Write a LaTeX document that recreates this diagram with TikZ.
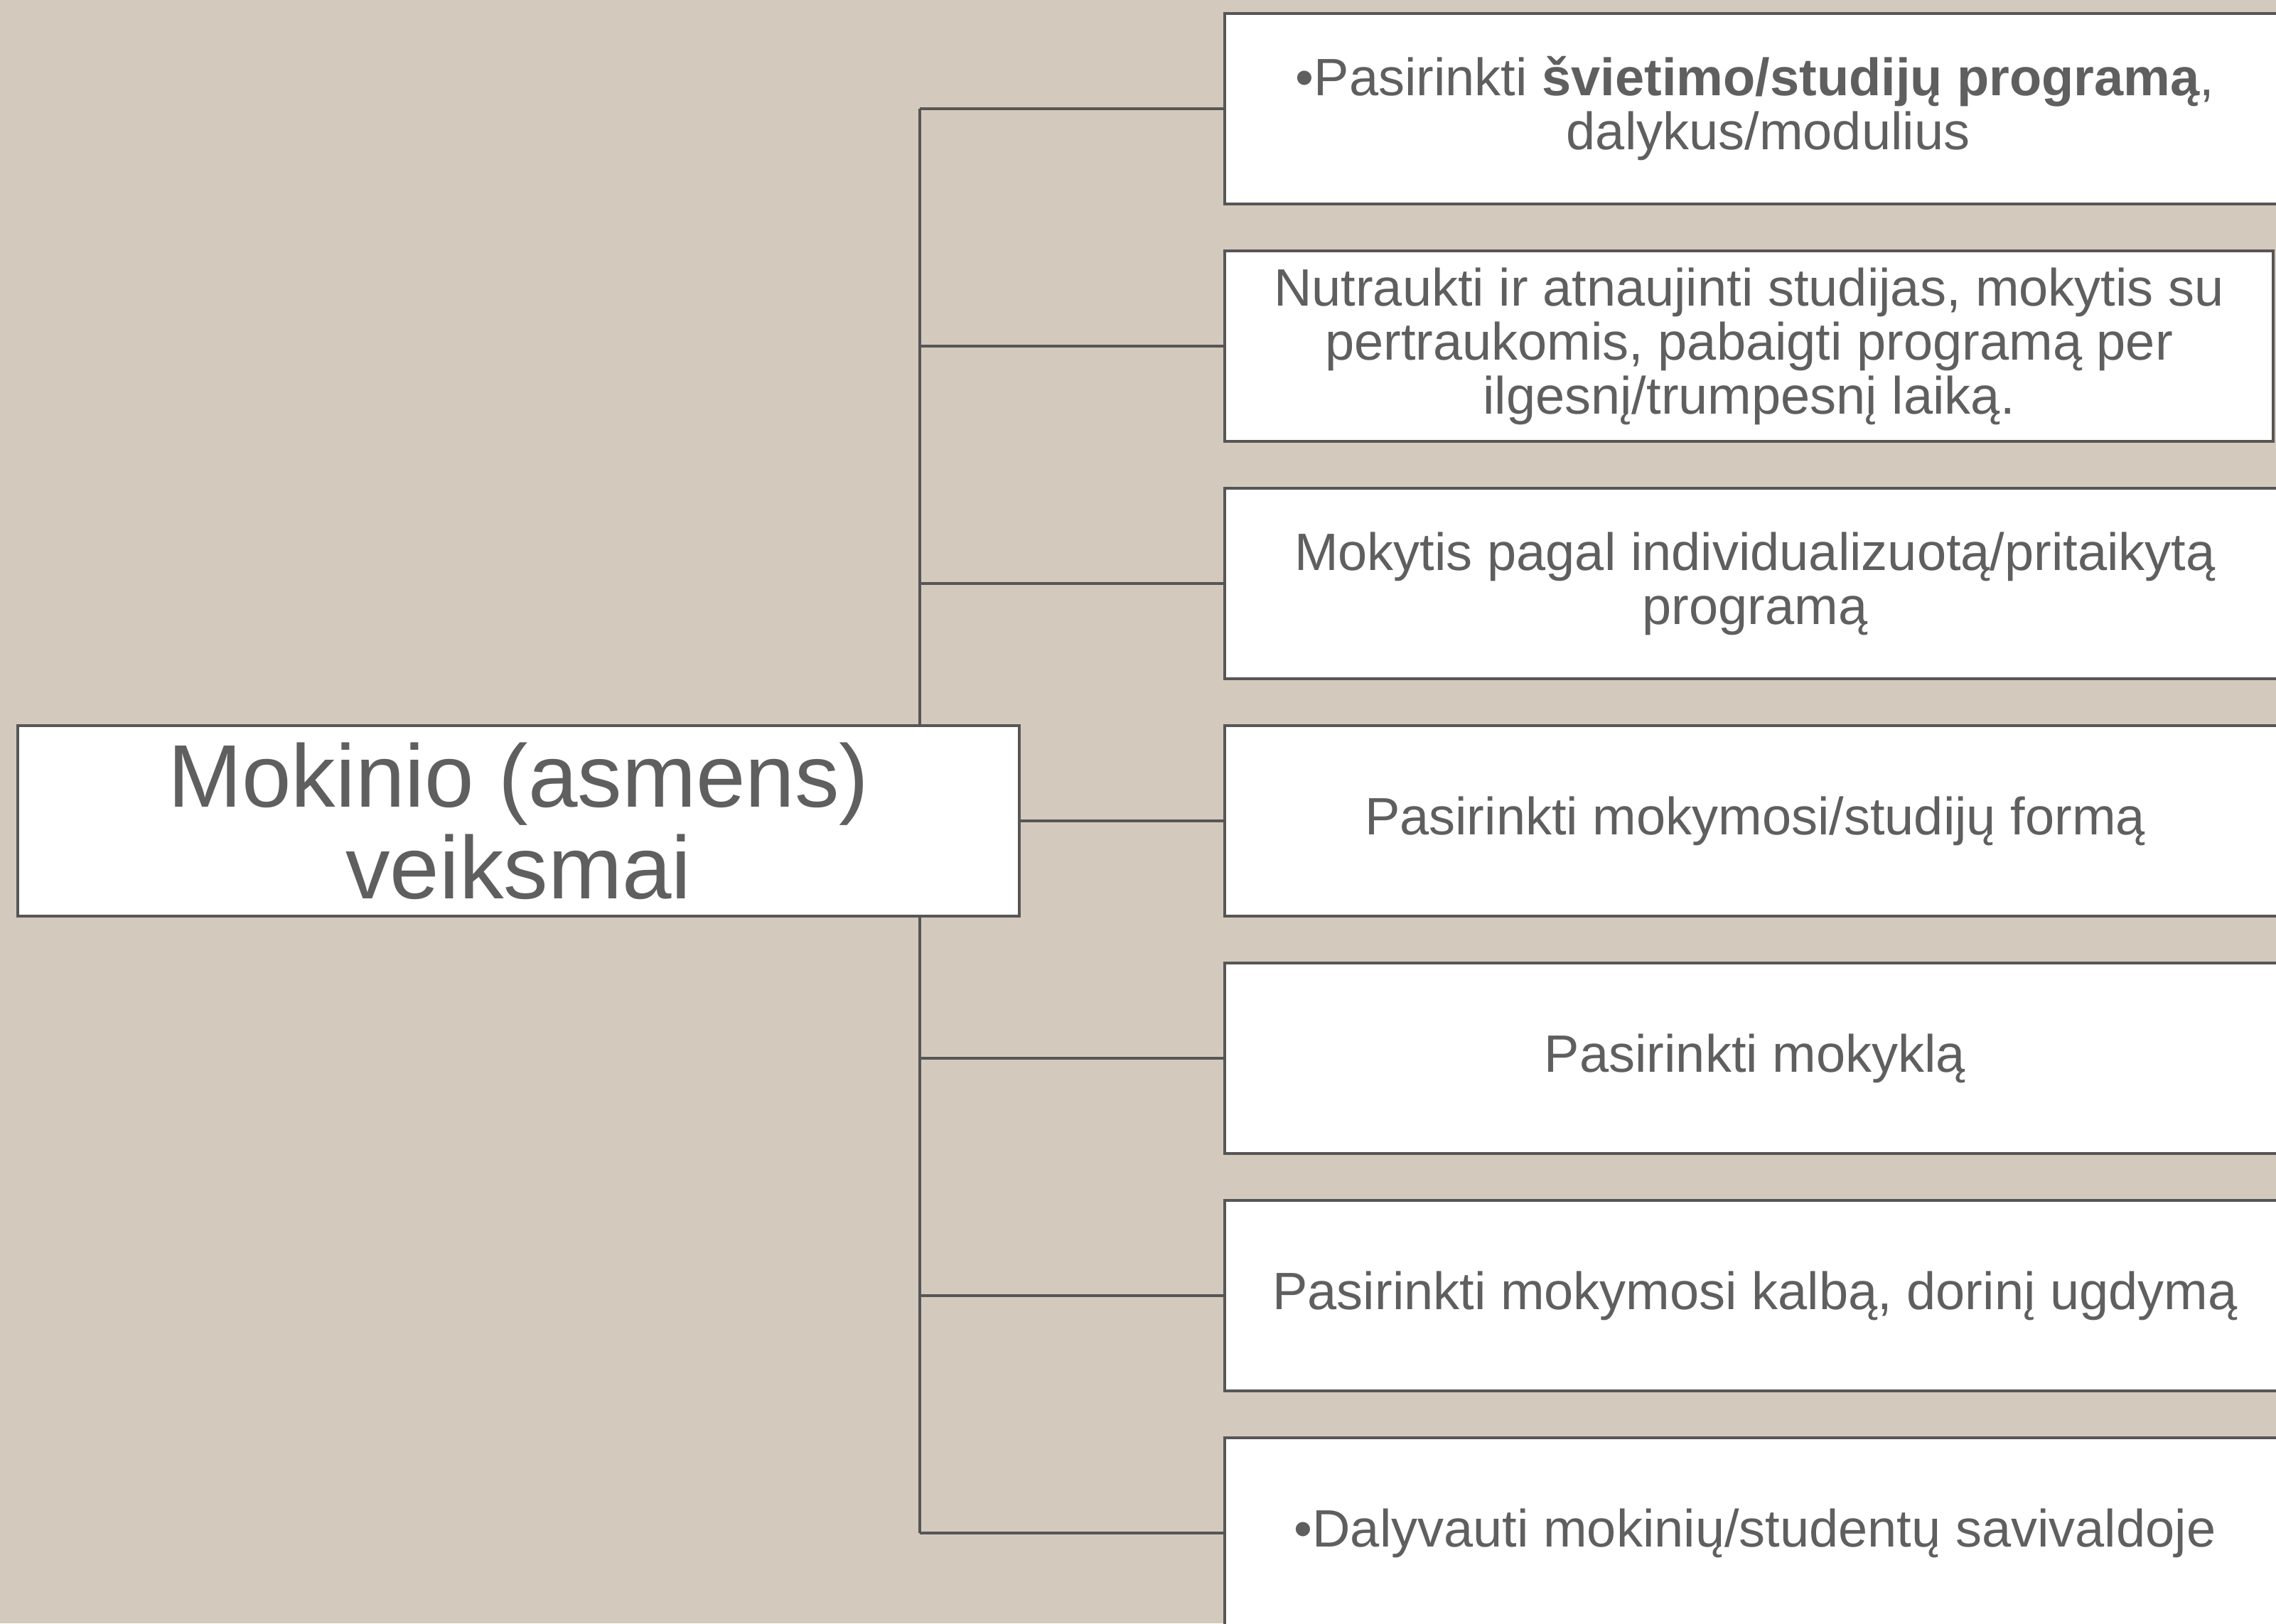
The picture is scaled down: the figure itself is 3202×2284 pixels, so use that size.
\documentclass[tikz,border=0pt]{standalone}
\usepackage{fontspec}
\setmainfont{Liberation Sans}
\definecolor{bgtan}{HTML}{D3C9BD}
\definecolor{edgegray}{HTML}{565656}
\definecolor{txtgray}{HTML}{5F5F5F}
\begin{document}
\begin{tikzpicture}[x=1pt,y=-1pt,
  actbox/.style={draw=edgegray, line width=4.5pt, fill=white, inner sep=0pt, outer sep=0pt,
    minimum width=1492pt, minimum height=268pt, anchor=north west,
    text=txtgray, align=center, font=\fontsize{74}{76}\selectfont},
  mainbox/.style={draw=edgegray, line width=4.5pt, fill=white, inner sep=0pt, outer sep=0pt,
    minimum width=1409pt, minimum height=268pt, anchor=north west,
    text=txtgray, align=center, font=\fontsize{125}{129}\selectfont},
  link/.style={draw=edgegray, line width=4.2pt}]
\useasboundingbox[fill=bgtan] (0,0) rectangle (3202,2284);
% right boxes
\node[actbox] (b1) at (1723,19) {•Pasirinkti \textbf{švietimo/studijų programą},\\dalykus/moduliu\rlap{s}};
\node[actbox, minimum width=1475pt] (b2) at (1723,353) {Nutraukti ir atnaujinti studijas, mokytis su\\pertraukomis, pabaigti programą per\\ilgesnį/trumpesnį laiką.};
\node[actbox] (b3) at (1723,687) {Mokytis pagal individualizuotą/pritaikytą\\programą};
\node[actbox] (b4) at (1723,1021) {Pasirinkti mokymosi/studijų formą};
\node[actbox] (b5) at (1723,1355) {Pasirinkti mokyklą};
\node[actbox] (b6) at (1723,1689) {Pasirinkti mokymosi kalbą, dorinį ugdymą};
\node[actbox] (b7) at (1723,2023) {•Dalyvauti mokinių/studentų savivaldoje};
% main box
\node[mainbox] (m) at (25,1021) {Mokinio (asmens)\\veiksmai};
% trunk
\coordinate (tx) at (1294,0);
\coordinate (t1) at (b1.west -| tx);
\coordinate (t2) at (b2.west -| tx);
\coordinate (t3) at (b3.west -| tx);
\coordinate (t5) at (b5.west -| tx);
\coordinate (t6) at (b6.west -| tx);
\coordinate (t7) at (b7.west -| tx);
\draw[link] (t1) -- (t1 |- m.north);
\draw[link] (t7 |- m.south) -- (t7);
\draw[link] (t1) -- (b1.west);
\draw[link] (t2) -- (b2.west);
\draw[link] (t3) -- (b3.west);
\draw[link] (m.east) -- (b4.west);
\draw[link] (t5) -- (b5.west);
\draw[link] (t6) -- (b6.west);
\draw[link] (t7) -- (b7.west);
\end{tikzpicture}
\end{document}
